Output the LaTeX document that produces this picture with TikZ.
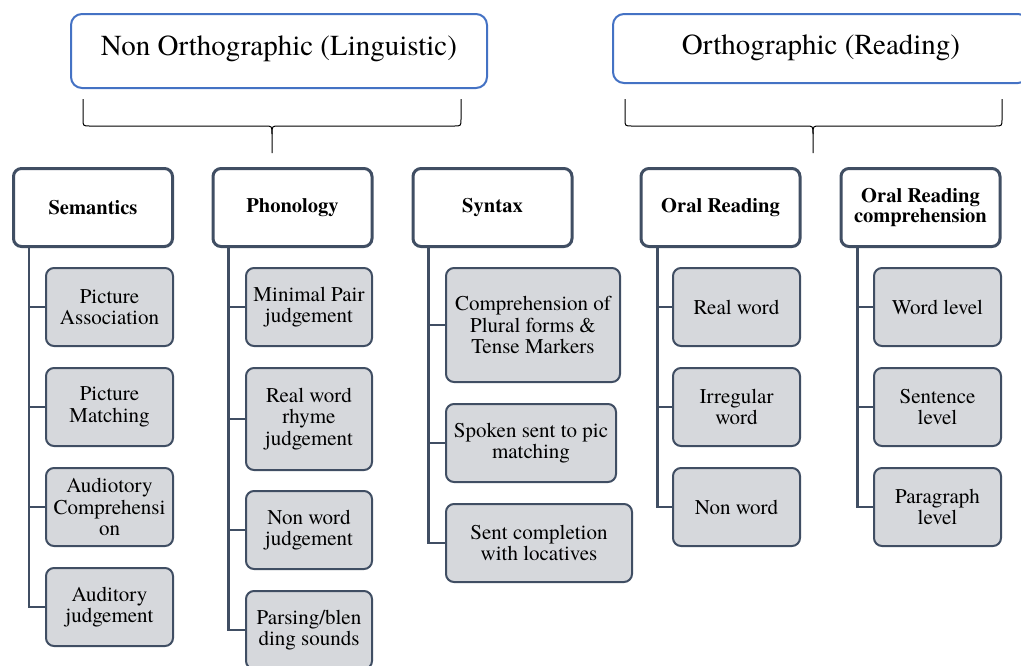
\documentclass[tikz,border=0pt]{standalone}
\usepackage{fontspec}
\setmainfont{texgyretermes}[Extension=.otf, UprightFont=*-regular, BoldFont=*-bold, ItalicFont=*-italic, BoldItalicFont=*-bolditalic]
\definecolor{slate}{HTML}{404E63}
\definecolor{leaffill}{HTML}{D6D8DC}
\definecolor{topblue}{HTML}{4472C4}
\begin{document}
\begin{tikzpicture}[x=1pt,y=-1pt,
  topbox/.style={draw=topblue, line width=2pt, rounded corners=11pt, fill=white, inner sep=0pt},
  toptext/.style={font=\fontsize{29}{30}\selectfont, anchor=base, inner sep=0pt},
  cat/.style={draw=slate, line width=3pt, rounded corners=8pt, fill=white, minimum width=159pt, minimum height=78pt, align=center, font=\fontsize{20.5}{20}\selectfont\bfseries, inner sep=0pt},
  leaf/.style={draw=slate, line width=2pt, rounded corners=8pt, fill=leaffill, minimum width=127pt, minimum height=78pt, align=center, font=\fontsize{21}{21.5}\selectfont, inner sep=0pt},
  conn/.style={draw=slate, line width=2.5pt},
  brace/.style={draw=black, line width=1pt}]
\useasboundingbox (0,0) rectangle (1021,665);
\clip (0,0) rectangle (1021,665);

% top headers
\node[topbox, minimum width=416pt, minimum height=74pt] (nonorth) at (279,51) {};
\node[toptext] (nonorthtxt) at (279,55) {Non Orthographic (Linguistic)};
\node[topbox, minimum width=416pt, minimum height=69pt] (orth) at (821,48.5) {};
\node[toptext] (orthtxt) at (821,54) {Orthographic (Reading)};

% braces
\draw[brace] (83,99) -- (83,119) .. controls (83,126) .. (90,126) -- (265,126) .. controls (272,126) .. (272,134) -- (272,153);
\draw[brace] (461,99) -- (461,119) .. controls (461,126) .. (454,126) -- (279,126) .. controls (272,126) .. (272,134);
\draw[brace] (625,99) -- (625,119) .. controls (625,126) .. (632,126) -- (806,126) .. controls (813,126) .. (813,134) -- (813,153);
\draw[brace] (1002,99) -- (1002,119) .. controls (1002,126) .. (995,126) -- (820,126) .. controls (813,126) .. (813,134);

% categories
\node[cat] (sem) at (93,207.5) {Semantics};
\node[cat] (pho) at (292.5,207.5) {Phonology};
\node[cat] (syn) at (492.5,207.5) {Syntax};
\node[cat] (ora) at (720.5,207.5) {Oral Reading};
\node[cat] (orc) at (920.5,207.5) {Oral Reading\\comprehension};

% semantics leaves
\node[leaf] (s1) at (109.5,307) {Picture\\Association};
\node[leaf] (s2) at (109.5,407) {Picture\\Matching};
\node[leaf] (s3) at (109.5,507) {Audiotory\\Comprehensi\\on};
\node[leaf] (s4) at (109.5,607) {Auditory\\judgement};

% phonology leaves
\node[leaf, minimum width=126pt] (p1) at (309,307) {Minimal Pair\\judgement};
\node[leaf, minimum width=126pt, minimum height=102pt] (p2) at (309,419) {Real word\\rhyme\\judgement};
\node[leaf, minimum width=126pt] (p3) at (309,530) {Non word\\judgement};
\node[leaf, minimum width=126pt] (p4) at (309,630) {Parsing/blen\\ding sounds};

% syntax leaves
\node[leaf, minimum width=174pt, minimum height=114pt] (y1) at (533,325) {Comprehension of\\Plural forms \&\\Tense Markers};
\node[leaf, minimum width=170pt] (y2) at (531,443) {Spoken sent to pic\\matching};
\node[leaf, minimum width=186pt] (y3) at (539,543) {Sent completion\\with locatives};

% oral reading leaves
\node[leaf] (r1) at (736.5,307) {Real word};
\node[leaf] (r2) at (736.5,407) {Irregular\\word};
\node[leaf] (r3) at (736.5,507) {Non word};

% oral reading comprehension leaves
\node[leaf] (c1) at (937.5,307) {Word level};
\node[leaf] (c2) at (937.5,407) {Sentence\\level};
\node[leaf] (c3) at (937.5,507) {Paragraph\\level};

% connectors
\foreach \leafname in {s1,s2,s3,s4} \draw[conn] ([xshift=17pt]sem.south west) |- (\leafname.west);
\foreach \leafname in {p1,p2,p3,p4} \draw[conn] ([xshift=17pt]pho.south west) |- (\leafname.west);
\foreach \leafname in {y1,y2,y3} \draw[conn] ([xshift=17pt]syn.south west) |- (\leafname.west);
\foreach \leafname in {r1,r2,r3} \draw[conn] ([xshift=18pt]ora.south west) |- (\leafname.west);
\foreach \leafname in {c1,c2,c3} \draw[conn] ([xshift=18pt]orc.south west) |- (\leafname.west);
\end{tikzpicture}
\end{document}
